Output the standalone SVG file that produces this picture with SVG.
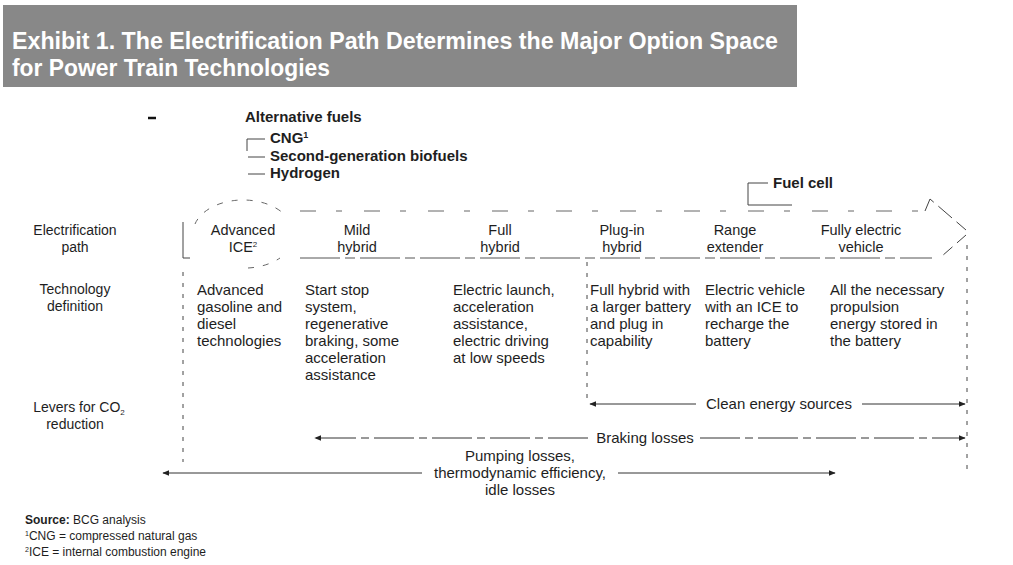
<svg xmlns="http://www.w3.org/2000/svg" width="1013" height="565" viewBox="0 0 1013 565">
  <style>
    text { font-family: "Liberation Sans", Arial, sans-serif; fill: #1e1e1e; }
    .title { font-size: 23px; font-weight: bold; fill: #ffffff; }
    .hd { font-size: 15px; font-weight: bold; }
    .row { font-size: 14px; text-anchor: middle; }
    .col { font-size: 14.5px; text-anchor: middle; }
    .body { font-size: 15px; }
    .lever { font-size: 15px; text-anchor: middle; }
    .note { font-size: 12px; }
    .ln { stroke: #444; stroke-width: 1; fill: none; }
    .dash { stroke: #555; stroke-width: 1; fill: none; stroke-dasharray: 40 5 10 5; }
    .faint { stroke: #666; stroke-width: 1; fill: none; stroke-dasharray: 16 20 6 22; }
    .oval { stroke: #666; stroke-width: 1; fill: none; stroke-dasharray: 6 9; }
    .vdash { stroke: #444; stroke-width: 1; fill: none; stroke-dasharray: 4 7; }
    .arr { stroke: #333; stroke-width: 1; fill: none; }
  </style>
  <defs>
    <marker id="ah" viewBox="0 0 10 10" refX="9" refY="5" markerWidth="7" markerHeight="7" orient="auto-start-reverse" markerUnits="userSpaceOnUse">
      <path d="M0,1 L10,5 L0,9 Z" fill="#222"/>
    </marker>
  </defs>

  <!-- heading band -->
  <g id="heading">
    <rect x="3" y="5" width="794" height="82" fill="#888888"/>
    <text class="title" x="12" y="49" textLength="766" lengthAdjust="spacingAndGlyphs">Exhibit 1. The Electrification Path Determines the Major Option Space</text>
    <text class="title" x="12" y="76" textLength="318" lengthAdjust="spacingAndGlyphs">for Power Train Technologies</text>
  </g>

  <line x1="148" y1="118" x2="156" y2="118" stroke="#111" stroke-width="2.5"/>

  <!-- alternative fuels legend -->
  <g id="alt-fuels">
    <text class="hd" x="245" y="122">Alternative fuels</text>
    <path class="ln" d="M265,139 H247 V151"/>
    <text class="hd" x="270" y="143">CNG<tspan font-size="9" dy="-5">1</tspan></text>
    <line class="ln" x1="248" y1="157" x2="265" y2="157"/>
    <text class="hd" x="270" y="161">Second-generation biofuels</text>
    <line class="ln" x1="248" y1="174" x2="265" y2="174"/>
    <text class="hd" x="270" y="178">Hydrogen</text>
  </g>

  <!-- fuel cell legend -->
  <g id="fuel-cell">
    <path class="ln" d="M768,183 H748 V205 H792"/>
    <text class="hd" x="773" y="188">Fuel cell</text>
  </g>

  <!-- row labels -->
  <g id="row-electrification">
    <text class="row" x="75" y="235">Electrification</text>
    <text class="row" x="75" y="252">path</text>
  </g>
  <g id="row-technology">
    <text class="row" x="75" y="294">Technology</text>
    <text class="row" x="75" y="311">definition</text>
  </g>
  <g id="row-levers">
    <text class="row" x="79" y="412">Levers for CO<tspan font-size="8" dy="3">2</tspan></text>
    <text class="row" x="75" y="429">reduction</text>
  </g>

  <!-- electrification path frame -->
  <g id="path-frame">
    <path class="ln" d="M183,222 V258 H190"/>
    <path class="dash" d="M300,258 H932"/>
    <path class="faint" d="M300,211 H925"/>
    <path class="ln" stroke-dasharray="18 6" d="M925,211 L930,199 L966,230"/>
    <path class="ln" stroke-dasharray="12 6" d="M966,235 L942,256"/>
    <!-- oval around the ICE stage: upper and lower arcs only -->
    <path class="oval" d="M195,224 A50,33 0 0 1 284,214"/>
    <path class="oval" d="M248,268 A50,33 0 0 0 280,258"/>
  </g>

  <!-- path stages -->
  <g id="stage-ice">
    <text class="col" x="243" y="235">Advanced</text>
    <text class="col" x="243" y="252">ICE<tspan font-size="8" dy="-5">2</tspan></text>
    <text class="body" x="197" y="295">Advanced</text>
    <text class="body" x="197" y="312">gasoline and</text>
    <text class="body" x="197" y="329">diesel</text>
    <text class="body" x="197" y="346">technologies</text>
  </g>
  <g id="stage-mild">
    <text class="col" x="357" y="235">Mild</text>
    <text class="col" x="357" y="252">hybrid</text>
    <text class="body" x="305" y="295">Start stop</text>
    <text class="body" x="305" y="312">system,</text>
    <text class="body" x="305" y="329">regenerative</text>
    <text class="body" x="305" y="346">braking, some</text>
    <text class="body" x="305" y="363">acceleration</text>
    <text class="body" x="305" y="380">assistance</text>
  </g>
  <g id="stage-full">
    <text class="col" x="500" y="235">Full</text>
    <text class="col" x="500" y="252">hybrid</text>
    <text class="body" x="453" y="295">Electric launch,</text>
    <text class="body" x="453" y="312">acceleration</text>
    <text class="body" x="453" y="329">assistance,</text>
    <text class="body" x="453" y="346">electric driving</text>
    <text class="body" x="453" y="363">at low speeds</text>
  </g>
  <g id="stage-plugin">
    <text class="col" x="622" y="235">Plug-in</text>
    <text class="col" x="622" y="252">hybrid</text>
    <text class="body" x="590" y="295">Full hybrid with</text>
    <text class="body" x="590" y="312">a larger battery</text>
    <text class="body" x="590" y="329">and plug in</text>
    <text class="body" x="590" y="346">capability</text>
  </g>
  <g id="stage-range">
    <text class="col" x="735" y="235">Range</text>
    <text class="col" x="735" y="252">extender</text>
    <text class="body" x="705" y="295">Electric vehicle</text>
    <text class="body" x="705" y="312">with an ICE to</text>
    <text class="body" x="705" y="329">recharge the</text>
    <text class="body" x="705" y="346">battery</text>
  </g>
  <g id="stage-ev">
    <text class="col" x="861" y="235">Fully electric</text>
    <text class="col" x="861" y="252">vehicle</text>
    <text class="body" x="830" y="295">All the necessary</text>
    <text class="body" x="830" y="312">propulsion</text>
    <text class="body" x="830" y="329">energy stored in</text>
    <text class="body" x="830" y="346">the battery</text>
  </g>

  <!-- scope boundaries -->
  <g id="boundaries">
    <line class="vdash" x1="183" y1="272" x2="183" y2="462"/>
    <line class="vdash" x1="587" y1="262" x2="587" y2="400"/>
    <line class="vdash" x1="967" y1="245" x2="967" y2="470"/>
  </g>

  <!-- lever ranges -->
  <g id="connectors">
    <line class="arr" x1="696" y1="404" x2="590" y2="404" marker-end="url(#ah)"/>
    <line class="arr" x1="862" y1="404" x2="965" y2="404" marker-end="url(#ah)"/>
    <line class="arr" x1="588" y1="438" x2="315" y2="438" marker-end="url(#ah)" stroke-dasharray="40 5 8 5"/>
    <line class="arr" x1="700" y1="438" x2="965" y2="438" marker-end="url(#ah)" stroke-dasharray="40 5 8 5"/>
    <line class="arr" x1="422" y1="473" x2="163" y2="473" marker-end="url(#ah)"/>
    <line class="arr" x1="618" y1="473" x2="835" y2="473" marker-end="url(#ah)"/>
  </g>
  <g id="lever-clean">
    <text class="lever" x="779" y="409">Clean energy sources</text>
  </g>
  <g id="lever-braking">
    <text class="lever" x="645" y="443">Braking losses</text>
  </g>
  <g id="lever-pumping">
    <text class="lever" x="520" y="461">Pumping losses,</text>
    <text class="lever" x="520" y="478">thermodynamic efficiency,</text>
    <text class="lever" x="520" y="495">idle losses</text>
  </g>

  <!-- notes -->
  <g id="notes">
    <text class="note" x="25" y="524" font-size="11.5"><tspan font-weight="bold">Source:</tspan> BCG analysis</text>
    <text class="note" x="25" y="540"><tspan font-size="7" dy="-4">1</tspan><tspan dy="4">CNG = compressed natural gas</tspan></text>
    <text class="note" x="25" y="556"><tspan font-size="7" dy="-4">2</tspan><tspan dy="4">ICE = internal combustion engine</tspan></text>
  </g>
</svg>
